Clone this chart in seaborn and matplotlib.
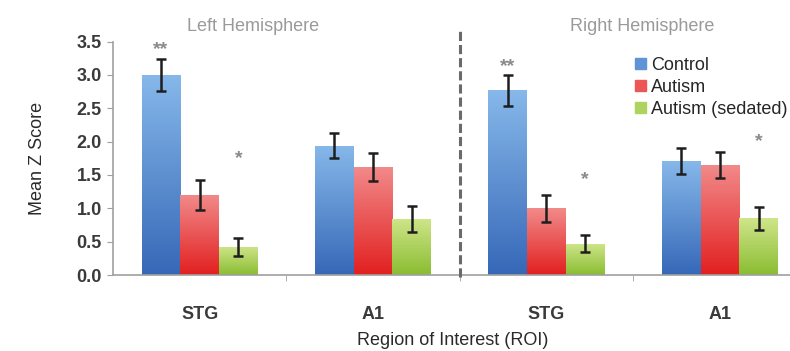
import numpy as np
import pandas as pd
import seaborn as sns
import matplotlib.pyplot as plt
from matplotlib.colors import LinearSegmentedColormap

# chart values
roi_keys = ["L-STG", "L-A1", "R-STG", "R-A1"]
roi_labels = ["STG", "A1", "STG", "A1"]
groups = ["Control", "Autism", "Autism (sedated)"]
control = [3.00, 1.94, 2.77, 1.71]
autism = [1.20, 1.62, 1.00, 1.65]
sedated = [0.42, 0.84, 0.47, 0.85]
control_err = [0.24, 0.19, 0.23, 0.19]
autism_err = [0.22, 0.21, 0.20, 0.19]
sedated_err = [0.14, 0.19, 0.13, 0.17]
hemispheres = ["Left Hemisphere", "Right Hemisphere"]
# significance marks: (roi index, group index, text, y)
stars = [(0, 0, "**", 3.38), (0, 2, "*", 1.74), (2, 0, "**", 3.12), (2, 2, "*", 1.43), (3, 2, "*", 2.0)]

sns.set_style("white")
plt.rcParams["font.family"] = ["Liberation Sans", "DejaVu Sans"]

df = pd.DataFrame({
    "roi": roi_keys * 3,
    "group": np.repeat(groups, len(roi_keys)),
    "score": control + autism + sedated,
    "err": control_err + autism_err + sedated_err,
})

top_colors = ["#86b8ea", "#f28a8a", "#cfe58a"]
bottom_colors = ["#3768b8", "#e22020", "#8abd32"]
mid_colors = ["#5f93d6", "#ec5656", "#aed35e"]

fig = plt.figure(figsize=(7.9, 3.51), dpi=100)
ax = fig.add_axes([0.143, 0.2165, 0.878, 0.665])

sns.barplot(data=df, x="roi", y="score", hue="group", order=roi_keys,
            hue_order=groups, palette=mid_colors, width=0.67,
            errorbar=None, legend=False, ax=ax)

# vertical gradient on each bar + error bars
bar_conts = list(ax.containers)
for gi, cont in enumerate(bar_conts):
    cmap = LinearSegmentedColormap.from_list("g%d" % gi, [bottom_colors[gi], top_colors[gi]])
    sub = df[df.group == groups[gi]]
    for bar, (_, row) in zip(cont.patches, sub.iterrows()):
        x0, w, h = bar.get_x(), bar.get_width(), bar.get_height()
        grad = np.linspace(1, 0, 100).reshape(-1, 1)
        im = ax.imshow(grad, cmap=cmap, aspect="auto", extent=[x0, x0 + w, 0, h],
                       zorder=bar.get_zorder() + 0.1, vmin=0, vmax=1)
        im.set_clip_path(bar)
        ax.errorbar(x0 + w / 2, h, yerr=row.err, fmt="none", ecolor="#1e1e1e",
                    elinewidth=1.8, capsize=3.5, capthick=1.8, zorder=5)

bw = 0.67 / 3
for ri, gi, txt, yv in stars:
    ax.text(ri + (gi - 1) * bw, yv, txt, ha="center", va="center",
            color="#8a8a8a", fontsize=14, fontweight="bold")

ax.set_xlim(-0.5, 3.5)
ax.set_ylim(0, 3.5)
ax.set_yticks(np.arange(0, 3.51, 0.5))
ax.set_yticklabels(["%.1f" % v for v in np.arange(0, 3.51, 0.5)])
ax.set_xticks(range(len(roi_keys)))
ax.set_xticklabels(roi_labels)
ax.set_xticks([0.5, 1.5, 2.5], minor=True)

for s in ["top", "right"]:
    ax.spines[s].set_visible(False)
for s in ["left", "bottom"]:
    ax.spines[s].set_color("#a0a0a0")
    ax.spines[s].set_linewidth(1.2)

ax.tick_params(axis="y", left=True, length=4, color="#a0a0a0", labelsize=13,
               labelcolor="#3a3a3a", pad=4)
ax.tick_params(axis="x", which="major", length=0, pad=22, labelsize=13, labelcolor="#3a3a3a")
ax.tick_params(axis="x", which="minor", bottom=True, length=4, color="#a0a0a0")
for t in ax.get_yticklabels() + ax.get_xticklabels():
    t.set_fontweight("bold")

ax.set_ylabel("Mean Z Score", fontsize=13, color="#2a2a2a")
ax.yaxis.set_label_coords(-0.096, 0.5)
ax.set_xlabel("Region of Interest (ROI)", fontsize=13, color="#2a2a2a")
ax.xaxis.set_label_coords(0.49, -0.245)

# hemisphere divider and titles
ax.axvline(1.5, ymin=-0.01, ymax=1.045, color="#6a6a6a", lw=2.2,
           ls=(0, (3, 1.3)), clip_on=False, zorder=4)
ax.text(0.31, 3.73, hemispheres[0], ha="center", va="center", fontsize=13, color="#9a9a9a")
ax.text(2.55, 3.73, hemispheres[1], ha="center", va="center", fontsize=13, color="#9a9a9a")

handles = [plt.Rectangle((0, 0), 1, 1, color=c) for c in mid_colors]
ax.legend(handles, groups, loc="upper left", bbox_to_anchor=(0.742, 0.965),
          frameon=False, fontsize=13, handlelength=0.6, handleheight=0.6,
          handletextpad=0.3, labelspacing=0.28, borderaxespad=0)

fig.savefig("out.png", dpi=100)
